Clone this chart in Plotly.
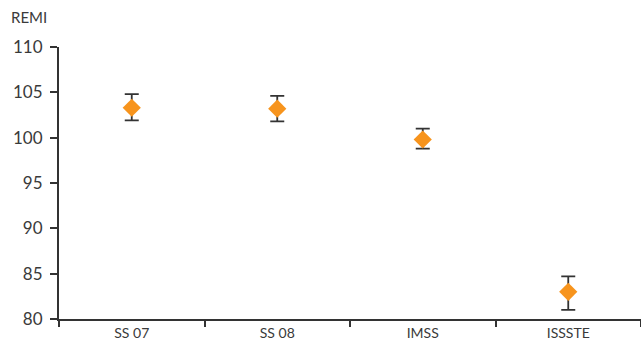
import plotly.graph_objects as go

categories = ["SS 07", "SS 08", "IMSS", "ISSSTE"]
values = [103.3, 103.2, 99.8, 83.0]
err_plus = [1.5, 1.4, 1.2, 1.7]
err_minus = [1.4, 1.4, 1.0, 2.0]
y_ticks = [80, 85, 90, 95, 100, 105, 110]

fig = go.Figure()
fig.add_trace(go.Scatter(
    x=categories, y=values, mode="markers",
    marker=dict(symbol="diamond", size=14, color="#F7941D"),
    error_y=dict(type="data", symmetric=False, array=err_plus, arrayminus=err_minus,
                 color="#333333", thickness=1.8, width=7),
    showlegend=False,
))
fig.update_layout(
    width=641, height=344,
    margin=dict(l=59, r=0, t=47, b=25),
    paper_bgcolor="white", plot_bgcolor="white",
    font=dict(family="Lato", color="#3a3a3a"),
    annotations=[dict(text="REMI", xref="paper", yref="paper", x=(9-59)/582, y=1.07,
                      xanchor="left", yanchor="bottom", showarrow=False,
                      font=dict(size=15, color="#3a3a3a"))],
)
fig.update_xaxes(
    type="category", range=[-0.5, 3.5], showline=True, linecolor="#333333", linewidth=2,
    ticks="outside", tickson="boundaries", ticklen=6, tickwidth=2, tickcolor="#333333",
    showgrid=False, tickfont=dict(size=14),
)
fig.update_yaxes(
    range=[80, 110], tickvals=y_ticks, showline=True, linecolor="#333333", linewidth=2,
    ticks="outside", ticklen=7, tickwidth=2, tickcolor="#333333", ticklabelstandoff=4,
    showgrid=False, zeroline=False, tickfont=dict(size=17),
)
fig.write_html("out.html")
